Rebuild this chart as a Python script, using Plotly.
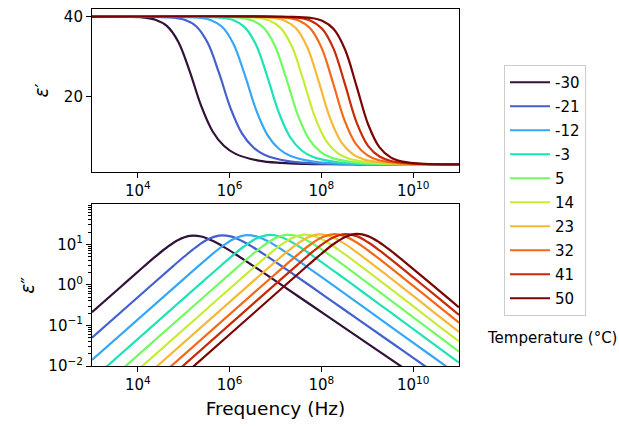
import plotly.graph_objects as go

# ---------------- data ----------------
temperature_labels = ["-30", "-21", "-12", "-3", "5", "14", "23", "32", "41", "50"]
line_colors = ["#30123b", "#4460d0", "#36a7f8", "#21e2b5", "#70fc61",
               "#c7ec36", "#f7b836", "#f46918", "#c72a04", "#7a0403"]

# log10 of frequency (Hz) at which each curve was read
logf_m30 = [3.0, 3.63, 4.13, 4.38, 4.63, 4.88, 5.13, 5.38, 5.63, 5.88, 6.13, 6.63, 7.13, 7.63, 8.13, 9.13, 11.0]
logf_m21 = [3.0, 4.269, 4.769, 5.019, 5.269, 5.519, 5.769, 6.019, 6.269, 6.519, 6.769, 7.269, 7.769, 8.269, 8.769, 9.769, 11.0]
logf_m12 = [3.0, 4.829, 5.329, 5.579, 5.829, 6.079, 6.329, 6.579, 6.829, 7.079, 7.329, 7.829, 8.329, 8.829, 9.329, 10.329, 11.0]
logf_m3 = [3.0, 5.32, 5.82, 6.07, 6.32, 6.57, 6.82, 7.07, 7.32, 7.57, 7.82, 8.32, 8.82, 9.32, 9.82, 10.82, 11.0]
logf_p5 = [3.0, 5.731, 6.231, 6.481, 6.731, 6.981, 7.231, 7.481, 7.731, 7.981, 8.231, 8.731, 9.231, 9.731, 10.231, 11.0]
logf_p14 = [3.0, 6.104, 6.604, 6.854, 7.104, 7.354, 7.604, 7.854, 8.104, 8.354, 8.604, 9.104, 9.604, 10.104, 10.604, 11.0]
logf_p23 = [3.0, 6.441, 6.941, 7.191, 7.441, 7.691, 7.941, 8.191, 8.441, 8.691, 8.941, 9.441, 9.941, 10.441, 11.0]
logf_p32 = [3.0, 6.755, 7.255, 7.505, 7.755, 8.005, 8.255, 8.505, 8.755, 9.005, 9.255, 9.755, 10.255, 10.755, 11.0]
logf_p41 = [3.0, 7.017, 7.517, 7.767, 8.017, 8.267, 8.517, 8.767, 9.017, 9.267, 9.517, 10.017, 10.517, 11.0]
logf_p50 = [3.0, 7.268, 7.768, 8.018, 8.268, 8.518, 8.768, 9.018, 9.268, 9.518, 9.768, 10.268, 10.768, 11.0]

# real permittivity eps'
eps1_m30 = [40.0, 39.975, 39.750, 39.224, 37.680, 33.730, 26.309, 17.654, 11.264, 7.609, 5.655, 3.973, 3.385, 3.155, 3.064, 3.011, 3.000]
eps1_m21 = [40.0, 39.974, 39.741, 39.195, 37.594, 33.511, 25.893, 17.125, 10.780, 7.238, 5.393, 3.851, 3.330, 3.127, 3.051, 3.008, 3.001]
eps1_m12 = [40.0, 39.973, 39.731, 39.165, 37.508, 33.292, 25.476, 16.595, 10.295, 6.868, 5.130, 3.730, 3.275, 3.103, 3.040, 3.006, 3.002]
eps1_m3 = [40.0, 39.972, 39.722, 39.136, 37.422, 33.073, 25.060, 16.066, 9.811, 6.497, 4.868, 3.608, 3.220, 3.082, 3.032, 3.005, 3.003]
eps1_p5 = [40.0, 39.971, 39.712, 39.105, 37.333, 32.848, 24.642, 15.556, 9.368, 6.177, 4.654, 3.519, 3.184, 3.065, 3.024, 3.005]
eps1_p14 = [40.0, 39.970, 39.702, 39.075, 37.243, 32.622, 24.223, 15.046, 8.926, 5.858, 4.441, 3.430, 3.147, 3.050, 3.018, 3.008]
eps1_p23 = [40.0, 39.969, 39.692, 39.044, 37.154, 32.397, 23.805, 14.536, 8.483, 5.538, 4.227, 3.341, 3.111, 3.038, 3.012]
eps1_p32 = [40.0, 39.968, 39.682, 39.012, 37.061, 32.166, 23.386, 14.046, 8.081, 5.265, 4.055, 3.278, 3.088, 3.028, 3.017]
eps1_p41 = [40.0, 39.967, 39.671, 38.980, 36.969, 31.934, 22.967, 13.556, 7.680, 4.992, 3.884, 3.214, 3.064, 3.020]
eps1_p50 = [40.0, 39.966, 39.661, 38.948, 36.876, 31.703, 22.548, 13.066, 7.278, 4.719, 3.712, 3.151, 3.041, 3.022]

# imaginary permittivity eps''
eps2_m30 = [0.2112, 0.900, 2.826, 4.939, 8.334, 12.792, 16.110, 15.551, 12.155, 8.502, 5.669, 2.398, 0.995, 0.411, 0.170, 0.0289, 0.001045]
eps2_m21 = [0.04975, 0.924, 2.899, 5.065, 8.537, 13.067, 16.352, 15.621, 12.057, 8.327, 5.486, 2.270, 0.923, 0.3708, 0.1493, 0.02422, 0.002581]
eps2_m12 = [0.01405, 0.947, 2.972, 5.190, 8.741, 13.342, 16.594, 15.691, 11.959, 8.153, 5.303, 2.142, 0.851, 0.3339, 0.1314, 0.02035, 0.005822]
eps2_m3 = [0.004648, 0.971, 3.045, 5.316, 8.944, 13.617, 16.836, 15.761, 11.861, 7.978, 5.120, 2.014, 0.779, 0.300, 0.1155, 0.01708, 0.01211]
eps2_p5 = [0.001848, 0.994, 3.118, 5.441, 9.145, 13.883, 17.054, 15.796, 11.736, 7.793, 4.941, 1.901, 0.721, 0.2698, 0.1014, 0.02251]
eps2_p14 = [0.000801, 1.018, 3.190, 5.567, 9.346, 14.149, 17.271, 15.831, 11.612, 7.609, 4.763, 1.789, 0.662, 0.2421, 0.0889, 0.04022]
eps2_p23 = [0.000377, 1.041, 3.263, 5.692, 9.547, 14.415, 17.489, 15.866, 11.487, 7.424, 4.584, 1.676, 0.604, 0.217, 0.06907]
eps2_p32 = [0.000187, 1.065, 3.336, 5.817, 9.746, 14.672, 17.683, 15.868, 11.340, 7.234, 4.412, 1.578, 0.557, 0.1945, 0.1164]
eps2_p41 = [0.0001046, 1.088, 3.409, 5.942, 9.945, 14.929, 17.876, 15.870, 11.193, 7.045, 4.241, 1.480, 0.511, 0.1805]
eps2_p50 = [0.00006, 1.112, 3.482, 6.067, 10.144, 15.186, 18.070, 15.872, 11.046, 6.855, 4.069, 1.382, 0.464, 0.2795]

freq_lists = [logf_m30, logf_m21, logf_m12, logf_m3, logf_p5, logf_p14, logf_p23, logf_p32, logf_p41, logf_p50]
eps1_lists = [eps1_m30, eps1_m21, eps1_m12, eps1_m3, eps1_p5, eps1_p14, eps1_p23, eps1_p32, eps1_p41, eps1_p50]
eps2_lists = [eps2_m30, eps2_m21, eps2_m12, eps2_m3, eps2_p5, eps2_p14, eps2_p23, eps2_p32, eps2_p41, eps2_p50]

x_tick_vals = [1e4, 1e6, 1e8, 1e10]
x_tick_text = ["10<sup>4</sup>", "10<sup>6</sup>", "10<sup>8</sup>", "10<sup>10</sup>"]
y1_tick_vals = [20, 40]
y2_tick_vals = [1e-2, 1e-1, 1e0, 1e1]
y2_tick_text = ["10<sup>\u22122</sup>", "10<sup>\u22121</sup>", "10<sup>0</sup>", "10<sup>1</sup>"]

# ---------------- figure ----------------
FONT = "DejaVu Sans"
fig = go.Figure()
for lab, col, lf, e1, e2 in zip(temperature_labels, line_colors, freq_lists, eps1_lists, eps2_lists):
    f = [10 ** v for v in lf]
    fig.add_trace(go.Scatter(x=f, y=e1, mode="lines", name=lab, legendgroup=lab,
                             line=dict(color=col, width=2.2, shape="spline", smoothing=1.0),
                             xaxis="x", yaxis="y", showlegend=True))
    fig.add_trace(go.Scatter(x=f, y=e2, mode="lines", name=lab, legendgroup=lab,
                             line=dict(color=col, width=2.2, shape="spline", smoothing=1.0),
                             xaxis="x2", yaxis="y2", showlegend=False))

axis_common = dict(showline=True, linecolor="black", linewidth=1.1, mirror=True,
                   ticks="outside", ticklen=5, tickwidth=1.1, tickcolor="black",
                   showgrid=False, zeroline=False, automargin=False,
                   tickfont=dict(family=FONT, size=15, color="black"))

minor_vals = [m * 10 ** k for k in (-2, -1, 0, 1) for m in range(2, 10)]

fig.update_layout(
    width=619, height=426,
    margin=dict(l=92, r=160, t=9, b=60, autoexpand=False),
    paper_bgcolor="white", plot_bgcolor="white",
    font=dict(family=FONT, size=15, color="black"),
    xaxis=dict(type="log", range=[3, 11], domain=[0, 1], anchor="y",
               tickmode="array", tickvals=x_tick_vals, ticktext=x_tick_text, **axis_common),
    yaxis=dict(range=[1.2, 41.9], domain=[0.5443, 1.0], anchor="x",
               tickmode="array", tickvals=y1_tick_vals,
               title=dict(text="<i>\u03b5</i>\u2032", font=dict(family=FONT, size=18.5), standoff=10),
               **axis_common),
    xaxis2=dict(type="log", range=[3, 11], domain=[0, 1], anchor="y2",
                tickmode="array", tickvals=x_tick_vals, ticktext=x_tick_text,
                title=dict(text="Frequency (Hz)", font=dict(family=FONT, size=18.5), standoff=9),
                **axis_common),
    yaxis2=dict(type="log", range=[-2, 1.985], domain=[0, 0.4529], anchor="x2",
                tickmode="array", tickvals=y2_tick_vals, ticktext=y2_tick_text,
                minor=dict(tickmode="array", tickvals=minor_vals, ticks="outside",
                           ticklen=3, tickwidth=0.8, tickcolor="black", showgrid=False),
                title=dict(text="<i>\u03b5</i>\u2033", font=dict(family=FONT, size=18.5), standoff=8),
                **axis_common),
    legend=dict(x=1.1226, y=0.8431, xanchor="left", yanchor="top",
                bordercolor="#cccccc", borderwidth=1, bgcolor="white",
                font=dict(family=FONT, size=15, color="black"),
                tracegroupgap=1.5, itemwidth=40),
    annotations=[dict(text="Temperature (\u00b0C)", x=1.2534, y=0.0784, xref="paper", yref="paper",
                      xanchor="center", yanchor="middle", showarrow=False,
                      font=dict(family=FONT, size=15, color="black"))],
)

fig.write_html("out.html", config={"displayModeBar": False},
               post_script="document.body.style.margin='0';document.body.style.padding='0';")
